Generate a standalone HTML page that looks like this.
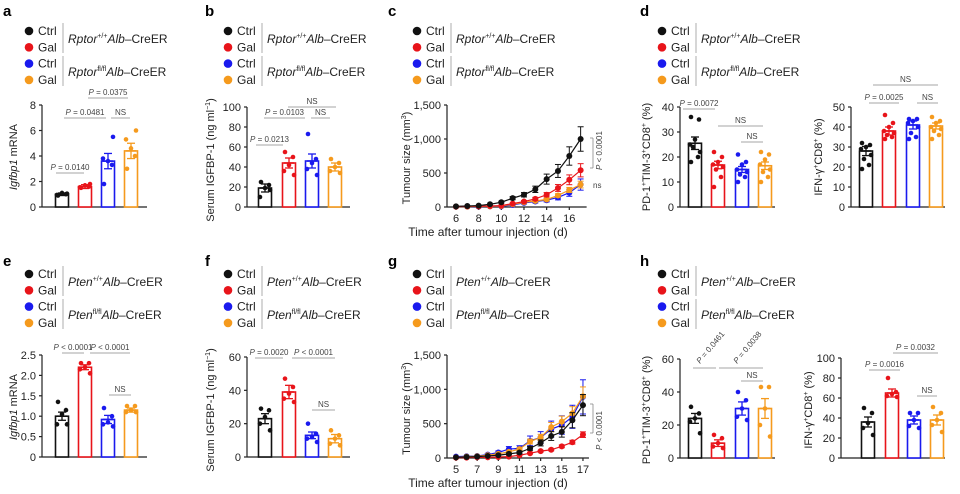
<!DOCTYPE html>
<html><head><meta charset="utf-8"><style>
html,body{margin:0;padding:0;background:#fff}
svg{display:block;font-family:"Liberation Sans",Arial,sans-serif}
</style></head><body>
<svg id="s" width="960" height="494" viewBox="0 0 960 494" xmlns="http://www.w3.org/2000/svg"></svg>
<script>
var S=document.getElementById('s'),NS='http://www.w3.org/2000/svg';
var C=['#111','#e8141a','#1a1aee','#f59a1d'];
function el(t,a,txt,p){var e=document.createElementNS(NS,t);for(var k in a)e.setAttribute(k,a[k]);if(txt!=null)e.textContent=txt;(p||S).appendChild(e);return e;}
function line(x1,y1,x2,y2,c,w){el('line',{x1:x1,y1:y1,x2:x2,y2:y2,stroke:c||'#222','stroke-width':w||1});}
function txt(x,y,s,o){var a={x:x,y:y,'font-size':(o&&o.fs)||10,fill:(o&&o.fill)||'#222'};if(o&&o.anchor)a['text-anchor']=o.anchor;if(o&&o.tr)a.transform=o.tr;if(o&&o.fw)a['font-weight']=o.fw;return el('text',a,s);}
function letter(x,y,s){txt(x,y,s,{fs:15,fw:'bold',fill:'#000'});}
function legend(dx,y0,gene){
  var lab=['Ctrl','Gal','Ctrl','Gal'];
  for(var i=0;i<4;i++){var y=y0+i*16.3;el('circle',{cx:dx,cy:y,r:4.3,fill:C[i]});txt(dx+9,y+4,lab[i],{fs:12});}
  line(dx+34,y0-8,dx+34,y0+22,'#999',0.8);line(dx+34,y0+25,dx+34,y0+55,'#999',0.8);
  var g=[['+/+',y0+12],['fl/fl',y0+45]];
  g.forEach(function(q){var t=el('text',{x:dx+39,y:q[1],'font-size':12,fill:'#222'});
    el('tspan',{'font-style':'italic'},gene,t);el('tspan',{'font-size':7,dy:-5},q[0],t);
    el('tspan',{'font-style':'italic',dy:5},'Alb',t);el('tspan',{},'–CreER',t);});
}
function ylab(x,y,parts){var t=el('text',{x:0,y:0,'font-size':11,fill:'#222','text-anchor':'middle',transform:'translate('+x+','+y+') rotate(-90)'});
  parts.forEach(function(p){var a={};if(p[1]=='i')a['font-style']='italic';if(p[1]=='sup'){a['font-size']=7;a.dy=-4;}if(p[1]=='back')a.dy=4;el('tspan',a,p[0],t);});}
function axes(ax,y0,yt,x2,ticks,max){
  line(ax,yt,ax,y0,'#222',1.2);line(ax,y0,x2,y0,'#222',1.2);
  ticks.forEach(function(v){var y=y0-(v[0]/max)*(y0-yt);line(ax-3,y,ax,y,'#222',1.2);txt(ax-6,y+4,v[1],{fs:11,anchor:'end'});});
}
function bars(ax,y0,yt,max,cx,means,sems,pts){
  var sc=function(v){return y0-v/max*(y0-yt);};
  for(var i=0;i<4;i++){var c=C[i],x=cx[i],m=sc(means[i]);
    el('rect',{x:x-6.5,y:m,width:13,height:y0-m,fill:'#fff',stroke:c,'stroke-width':1.6});
    var eu=sc(means[i]+sems[i]),ed=sc(means[i]-sems[i]);
    line(x,eu,x,ed,c,1.3);line(x-4,eu,x+4,eu,c,1.3);line(x-4,ed,x+4,ed,c,1.3);line(x-5,m,x+5,m,c,1.5);
    pts[i].forEach(function(v,j){var off=[-4,4,0,-5,5,-2,3,-4][j%8];el('circle',{cx:x+off,cy:sc(v),r:2.3,fill:c});});
  }
}
function br(x1,x2,y,s){line(x1,y,x2,y,'#888',0.8);var t=txt((x1+x2)/2,y-3,'',{fs:8,anchor:'middle',fill:'#444'});
  if(s[0]=='P'){el('tspan',{'font-style':'italic'},'P',t);el('tspan',{},s.slice(1),t);}else t.textContent=s;}

letter(3,16,'a');legend(29,31,'Rptor');
axes(42,207,105,147,[[0,'0'],[2,'2'],[4,'4'],[6,'6'],[8,'8']],8);
bars(42,207,105,8,[62,85,108,131],[1,1.6,3.6,4.4],[.1,.15,.6,.6],[[0.9,1.0,1.1,0.95,1.05],[1.5,1.6,1.7,1.55,1.8],[1.8,3.3,3.6,3.8,5.5],[3.0,4.0,4.6,5.3,6.0]]);
ylab(17,157,[['Igfbp1','i'],[' mRNA']]);
br(56,84,173,'P = 0.0140');br(64,106,118,'P = 0.0481');br(111,130,118,'NS');br(88,128,98,'P = 0.0375');
letter(205,16,'b');legend(228,31,'Rptor');
axes(247,207,107,350,[[0,'0'],[20,'20'],[40,'40'],[60,'60'],[80,'80'],[100,'100']],100);
bars(247,207,107,100,[265,289,312,335],[19,44,46,40],[4,5,7,4],[[25,22,19,10,17],[55,50,42,36,32],[73,48,44,38,32],[48,44,40,36,34]]);
ylab(214,160,[['Serum IGFBP-1 (ng ml'],['−1','sup'],[')','back']]);
br(256,283,145,'P = 0.0213');br(264,305,118,'P = 0.0103');br(311,330,118,'NS');br(288,336,107,'NS');

function lc(ax,y0,yt,d0,dN,px,xticks,series,errs){
  line(ax,yt,ax,y0,'#222',1.2);line(ax,y0,px(dN)+6,y0,'#222',1.2);
  [[0,'0'],[500,'500'],[1000,'1,000'],[1500,'1,500']].forEach(function(v){var y=y0-v[0]/1500*(y0-yt);line(ax-3,y,ax,y,'#222',1.2);txt(ax-6,y+4,v[1],{fs:11,anchor:'end'});});
  xticks.forEach(function(d){line(px(d),y0,px(d),y0+3,'#222',1.2);txt(px(d),y0+15,String(d),{fs:11,anchor:'middle'});});
  var sc=function(v){return y0-v/1500*(y0-yt);};
  [2,3,1,0].forEach(function(i){var s=series[i],p='';
    s.forEach(function(v,j){p+=(j?'L':'M')+px(d0+j)+' '+sc(v);});
    el('path',{d:p,fill:'none',stroke:C[i],'stroke-width':1.2});
    s.forEach(function(v,j){var e=v*errs[i];if(e>8){var x=px(d0+j);line(x,sc(v+e),x,sc(Math.max(0,v-e)),C[i],1);line(x-3,sc(v+e),x+3,sc(v+e),C[i],1);line(x-3,sc(Math.max(0,v-e)),x+3,sc(Math.max(0,v-e)),C[i],1);}
      el('circle',{cx:px(d0+j),cy:sc(v),r:3,fill:C[i]});});
  });
  ylab(ax-37,(y0+yt)/2+2,[['Tumour size (mm'],['3','sup'],[')','back']]);
  txt(488,y0+29,'Time after tumour injection (d)',{fs:12,anchor:'middle'});
}
letter(388,16,'c');legend(417,31,'Rptor');
lc(447,207,105,6,17,function(d){return 456+(d-6)*11.33;},[6,8,10,12,14,16],
 [[10,15,20,40,70,130,180,260,410,530,750,1000],[5,10,10,15,20,50,80,120,180,280,400,540],[5,5,5,10,10,30,60,80,100,140,210,330],[5,5,10,10,15,40,70,90,110,170,250,330]],[.18,.18,.25,.15]);
line(590,138,593,138,'#888',.8);line(593,138,593,168,'#888',.8);line(590,168,593,168,'#888',.8);
(function(){var t=txt(0,0,'',{fs:8,fill:'#444',tr:'translate(602,170) rotate(-90)'});el('tspan',{'font-style':'italic'},'P',t);el('tspan',{},' < 0.0001',t);})();
txt(593,188,'ns',{fs:8,fill:'#444'});

letter(640,16,'d');legend(662,31,'Rptor');
axes(680,207,107,775,[[0,'0'],[10,'10'],[20,'20'],[30,'30'],[40,'40']],40);
bars(680,207,107,40,[695,718,742,765],[25.5,16.8,15,16.5],[2.5,1.5,1.2,1.5],[[36,35,27,25,22,24,20,18],[22,20,18,17,16,15,12,8],[21,18,17,15,14,13,12,10],[22,21,19,17,15,14,12,10]]);
ylab(650,157,[['PD-1'],['+','sup'],['TIM-3','back'],['+','sup'],['CD8','back'],['+','sup'],[' (%)','back']]);
br(683,715,109,'P = 0.0072');br(718,763,126,'NS');br(741,763,142,'NS');
axes(851,207,107,945,[[0,'0'],[10,'10'],[20,'20'],[30,'30'],[40,'40'],[50,'50']],50);
bars(851,207,107,50,[866,889,913,936],[28,38,41,40.5],[2.3,2,2,1.5],[[32,31,30,29,26,24,21,19],[46,42,40,38,37,36,35,34],[44,44,43,42,40,37,35,34],[45,43,42,40,39,38,36,34]]);
ylab(822,157,[['IFN-γ'],['+','sup'],['CD8','back'],['+','sup'],[' (%)','back']]);
br(869,899,103,'P = 0.0025');br(917,938,103,'NS');br(873,938,85,'NS');

letter(3,266,'e');legend(29,274,'Pten');
axes(42,457,355,147,[[0,'0'],[0.5,'0.5'],[1,'1.0'],[1.5,'1.5'],[2,'2.0'],[2.5,'2.5']],2.5);
bars(42,457,355,2.5,[62,85,108,131],[1,2.2,0.92,1.15],[.1,.06,.1,.05],[[1.35,1.15,1.05,0.8,0.8],[2.3,2.3,2.2,2.15,2.05],[1.2,1.0,0.85,0.8,0.75],[1.25,1.25,1.15,1.1,1.1]]);
ylab(17,407,[['Igfbp1','i'],[' mRNA']]);
br(62,84,353,'P < 0.0001');br(90,130,353,'P < 0.0001');br(109,131,395,'NS');
letter(205,266,'f');legend(228,274,'Pten');
axes(247,457,357,350,[[0,'0'],[20,'20'],[40,'40'],[60,'60']],60);
bars(247,457,357,60,[265,289,312,335],[23,39,13,11],[3,4,2,2.5],[[29,28,24,20,16],[47,42,38,35,33],[20,14,12,11,9],[16,13,11,8,7]]);
ylab(214,410,[['Serum IGFBP-1 (ng ml'],['−1','sup'],[')','back']]);
br(255,283,358,'P = 0.0020');br(292,335,358,'P < 0.0001');br(312,335,410,'NS');
letter(388,266,'g');legend(417,274,'Pten');
lc(447,458,355,5,17,function(d){return 456+(d-5)*10.58;},[5,7,9,11,13,15,17],
 [[10,15,20,30,40,60,80,140,220,320,380,550,770],[5,5,10,10,15,20,40,70,100,120,170,230,340],[20,25,30,50,80,130,140,250,300,420,480,600,890],[10,20,25,40,60,90,130,240,300,450,530,650,900]],[.2,.12,.28,.15]);
line(590,404,593,404,'#888',.8);line(593,404,593,433,'#888',.8);line(590,433,593,433,'#888',.8);
(function(){var t=txt(0,0,'',{fs:8,fill:'#444',tr:'translate(602,450) rotate(-90)'});el('tspan',{'font-style':'italic'},'P',t);el('tspan',{},' < 0.0001',t);})();
letter(640,266,'h');legend(662,274,'Pten');
axes(680,458,359,775,[[0,'0'],[20,'20'],[40,'40'],[60,'60']],60);
bars(680,458,359,60,[695,718,742,765],[24,9,30,30],[3,2,4,6],[[31,27,24,22,15],[14,12,9,7,6],[40,35,30,25,23],[43,43,30,20,13]]);
ylab(650,410,[['PD-1'],['+','sup'],['TIM-3','back'],['+','sup'],['CD8','back'],['+','sup'],[' (%)','back']]);
line(693,368,716,368,'#888',.8);line(719,368,763,368,'#888',.8);
(function(){var t=txt(0,0,'',{fs:8,fill:'#444',tr:'translate(700,364) rotate(-50)'});el('tspan',{'font-style':'italic'},'P',t);el('tspan',{},' = 0.0461',t);
 t=txt(0,0,'',{fs:8,fill:'#444',tr:'translate(737,364) rotate(-50)'});el('tspan',{'font-style':'italic'},'P',t);el('tspan',{},' = 0.0038',t);})();
br(741,763,381,'NS');
axes(841,458,358,945,[[0,'0'],[20,'20'],[40,'40'],[60,'60'],[80,'80'],[100,'100']],100);
bars(841,458,358,100,[868,892,914,937],[36,65,38,38],[5,4,4,5],[[50,45,35,30,23],[80,66,64,62,61],[45,45,38,32,30],[51,45,38,33,26]]);
ylab(812,410,[['IFN-γ'],['+','sup'],['CD8','back'],['+','sup'],[' (%)','back']]);
br(869,900,370,'P = 0.0016');br(893,938,353,'P = 0.0032');br(917,937,396,'NS');
</script>
</body></html>
